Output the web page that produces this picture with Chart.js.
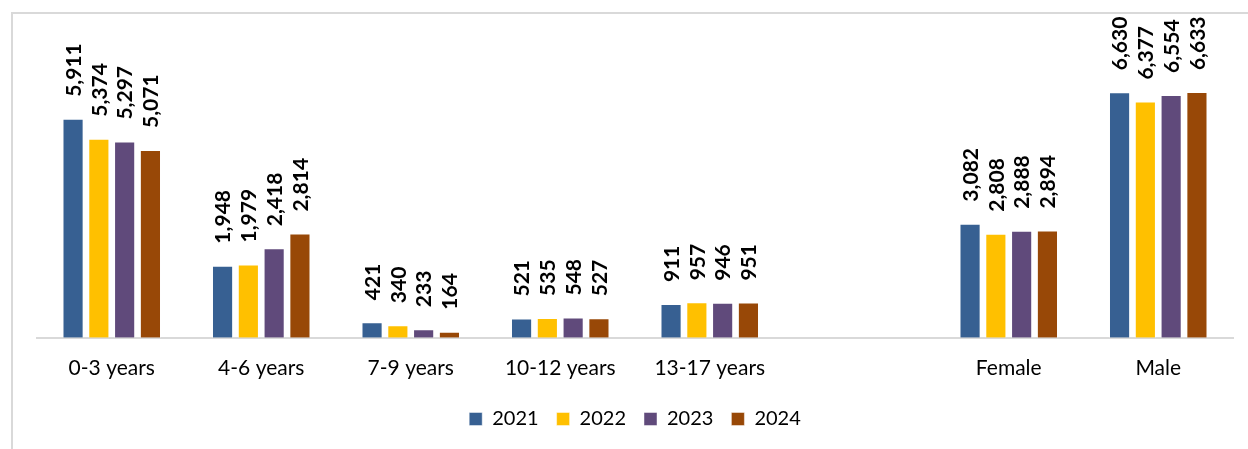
<!DOCTYPE html>
<html>
<head>
<meta charset="utf-8">
<script src="https://cdn.jsdelivr.net/npm/chart.js@4/dist/chart.umd.min.js"></script>
<style>
  html, body { margin: 0; padding: 0; background: #fff; overflow: hidden; }
  #frame {
    position: absolute; left: 11px; top: 12px; width: 1260px; height: 460px;
    border-left: 2px solid #d9d9d9; border-top: 2px solid #d9d9d9;
  }
  #wrap { position: absolute; left: 0; top: 0; width: 1248px; height: 449px; }
</style>
</head>
<body>
<div id="frame"></div>
<div id="wrap"><canvas id="ageChart" width="1248" height="449"></canvas></div>
<script>
// categories (empty slot keeps the gap before Female / Male)
const categories = ['0-3 years', '4-6 years', '7-9 years', '10-12 years', '13-17 years', '', 'Female', 'Male'];
const years = ['2021', '2022', '2023', '2024'];

const values2021 = [5911, 1948, 421, 521, 911, null, 3082, 6630];
const values2022 = [5374, 1979, 340, 535, 957, null, 2808, 6377];
const values2023 = [5297, 2418, 233, 548, 946, null, 2888, 6554];
const values2024 = [5071, 2814, 164, 527, 951, null, 2894, 6633];

const colors = ['#376092', '#FFC000', '#604A7B', '#984807'];

// rotated value labels above each bar //
const barLabels = {
    id: 'barLabels',
    afterDatasetsDraw(chart) {
        const ctx = chart.ctx;
        ctx.save();
        ctx.font = 'bold 21px Lato';
        ctx.fillStyle = '#000';
        ctx.textAlign = 'left';
        ctx.textBaseline = 'middle';
        chart.data.datasets.forEach((ds, i) => {
            chart.getDatasetMeta(i).data.forEach((bar, j) => {
                const v = ds.data[j];
                if (v == null) return;
                ctx.save();
                ctx.translate(bar.x + 1, bar.y - 22);
                ctx.rotate(-Math.PI / 2);
                ctx.fillText(v.toLocaleString('en-US'), 0, 0);
                ctx.restore();
            });
        });
        ctx.restore();
    }
};

const ctx = document.getElementById('ageChart').getContext('2d');
const ageChart = new Chart(ctx, {
    type: 'bar',
    data: {
        labels: categories,
        datasets: [values2021, values2022, values2023, values2024].map((d, i) => ({
            label: years[i],
            data: d,
            backgroundColor: colors[i],
            borderColor: 'rgba(255,255,255,0.45)',
            borderWidth: 1,
            categoryPercentage: 0.69,
            barPercentage: 0.82
        }))
    },
    options: {
        responsive: false,
        animation: false,
        layout: { padding: { left: 37, right: 15, top: 20, bottom: 10 } },
        scales: {
            x: {
                grid: { display: false },
                border: { color: '#d9d9d9', width: 2 },
                ticks: { color: '#000', font: { family: 'Lato', size: 21 }, padding: 10, maxRotation: 0, autoSkip: false }
            },
            y: {
                display: false,
                min: 0,
                max: 8580
            }
        },
        plugins: {
            legend: {
                position: 'bottom',
                labels: {
                    color: '#000',
                    font: { family: 'Lato', size: 20 },
                    boxWidth: 13,
                    boxHeight: 13,
                    padding: 18
                }
            },
            tooltip: { enabled: false }
        }
    },
    plugins: [barLabels]
});
</script>
</body>
</html>
